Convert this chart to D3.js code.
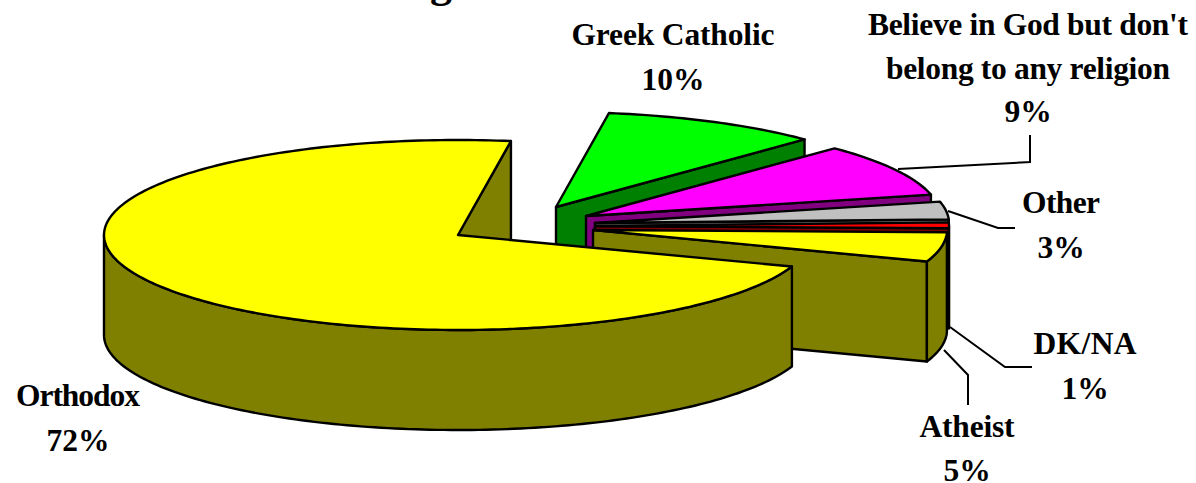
<!DOCTYPE html>
<html>
<head>
<meta charset="utf-8">
<script src="https://cdn.jsdelivr.net/npm/d3@7"></script>
<style>
  html, body { margin: 0; padding: 0; background: #fff; overflow: hidden; }
  text { font-family: "Liberation Serif", serif; font-weight: bold; fill: #000; }
</style>
</head>
<body>
<div id="chart"></div>
<script>
// chart data
const categories = ["Orthodox", "Greek Catholic", "Believe in God but don't belong to any religion", "Other", "DK/NA", "Atheist"];
const values = [72, 10, 9, 3, 1, 5];
const labelLines = [["Orthodox"], ["Greek Catholic"], ["Believe in God but don't", "belong to any religion"], ["Other"], ["DK/NA"], ["Atheist"]];

// layout, per slice in the same order as categories
const topColors = ["#ffff00", "#00ff00", "#ff00ff", "#c0c0c0", "#ff0000", "#ffff00"];
const sideColors = ["#808000", "#008000", "#800080", "#808080", "#800000", "#808000"];
const apexX = [458, 556, 586, 595, 595, 593];
const apexY = [235, 207, 216, 223, 226, 230];
const labelX = [78, 673, 1028, 1061, 1085, 967];
const labelY = [406, 45, 35, 213, 354, 437];
const labelGap = [45, 45, 43.5, 45, 45, 44];
const lineWidths = [[124], [203], [320, 284], [78], [103], [95]];
const leaders = [
  null,
  null,
  [[898, 169], [1030, 162], [1030, 135]],
  [[948, 211], [998, 228], [1015, 228]],
  [[950, 327], [1005, 367], [1032, 367]],
  [[944, 350], [968, 375], [968, 405]]
];

const width = 1196, height = 483;
const rx = 354, ry = 95, depth = 100;
const startDeg = 109.4;

const svg = d3.select("#chart").append("svg")
  .attr("width", width)
  .attr("height", height)
  .style("display", "block");

// the part of the title that is still inside the frame
svg.append("text")
  .attr("x", 441)
  .attr("y", -3)
  .attr("text-anchor", "middle")
  .style("font-size", "44px")
  .text("g");

const pie = d3.pie()
  .sort(null)
  .startAngle(startDeg * Math.PI / 180)
  .endAngle(startDeg * Math.PI / 180 + 2 * Math.PI);

const arcs = pie(values);

// unit circle -> tilted ellipse
const xScale = d3.scaleLinear().domain([-1, 1]).range([-rx, rx]);
const yScale = d3.scaleLinear().domain([-1, 1]).range([ry, -ry]);

const line = d3.line();

const arcPoints = (a0, a1, ax, ay, dy = 0) => {
  const n = Math.max(2, Math.ceil((a1 - a0) / 0.02));
  return d3.range(n + 1).map(i => {
    const t = a0 + (a1 - a0) * i / n;
    return [ax + xScale(Math.sin(t)), ay + yScale(Math.cos(t)) + dy];
  });
};

const drawShape = (pts, fill) => {
  svg.append("path")
    .attr("d", line(pts) + "Z")
    .attr("fill", fill)
    .attr("stroke", "#000")
    .attr("stroke-width", 2.4)
    .attr("stroke-linejoin", "round");
};

const drawSlice = (i) => {
  const d = arcs[i];
  const ax = apexX[i], ay = apexY[i];

  // wall at the clockwise end of the slice
  const endP = [ax + xScale(Math.sin(d.endAngle)), ay + yScale(Math.cos(d.endAngle))];
  drawShape([[ax, ay], endP, [endP[0], endP[1] + depth], [ax, ay + depth]], sideColors[i]);

  // outer rim, only the part that faces the viewer (angles past a full turn wrap back)
  const wrap = d.startAngle >= 2 * Math.PI ? 2 * Math.PI : 0;
  const r0 = Math.max(d.startAngle - wrap, Math.PI / 2);
  const r1 = Math.min(d.endAngle - wrap, 1.5 * Math.PI);
  if (r1 > r0) {
    const rimTop = arcPoints(r0, r1, ax, ay);
    const rimBottom = arcPoints(r0, r1, ax, ay, depth).reverse();
    drawShape(rimTop.concat(rimBottom), sideColors[i]);
  }

  // top face
  drawShape([[ax, ay]].concat(arcPoints(d.startAngle, d.endAngle, ax, ay)), topColors[i]);
};

// back to front
[1, 2, 3, 4, 5, 0].forEach(drawSlice);

// leader lines
leaders.forEach(pts => {
  if (!pts) return;
  svg.append("path")
    .attr("d", line(pts))
    .attr("fill", "none")
    .attr("stroke", "#000")
    .attr("stroke-width", 2);
});

// labels, each line fitted to the width it has in the picture
const fontSize = 31.5;
categories.forEach((c, i) => {
  const lines = labelLines[i];
  lines.concat(values[i] + "%").forEach((s, j) => {
    const t = svg.append("text")
      .attr("x", labelX[i])
      .attr("y", labelY[i] + j * labelGap[i])
      .attr("text-anchor", "middle")
      .style("font-size", fontSize + "px")
      .text(s);
    if (j < lines.length) {
      t.attr("textLength", lineWidths[i][j]).attr("lengthAdjust", "spacing");
    }
  });
});
</script>
</body>
</html>
